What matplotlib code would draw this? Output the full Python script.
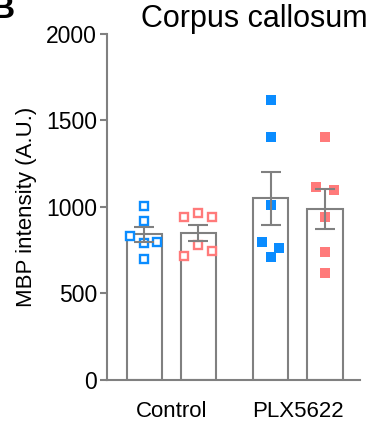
import matplotlib.pyplot as plt
import numpy as np

plt.rcParams["font.family"] = ["Liberation Sans", "DejaVu Sans"]

# values
groups = ["Control", "PLX5622"]
ctrl_blue = [1007, 919, 834, 790, 796, 698]
ctrl_red = [944, 963, 944, 780, 747, 719]
plx_blue = [1618, 1403, 1011, 799, 761, 713]
plx_red = [1403, 1114, 1098, 944, 742, 620]

# horizontal jitter of the dots within each bar
jit_ctrl_blue = [0, 0, -0.27, 0, 0.24, 0]
jit_ctrl_red = [-0.26, 0, 0.26, 0, 0.26, -0.26]
jit_plx_blue = [0, 0, 0, -0.16, 0.15, 0]
jit_plx_red = [0, -0.16, 0.16, 0, 0, 0]

blue = "#0a8cff"
red = "#ff7a7a"
gray = "#808080"

series = [
    (ctrl_blue, jit_ctrl_blue, blue, False),
    (ctrl_red, jit_ctrl_red, red, False),
    (plx_blue, jit_plx_blue, blue, True),
    (plx_red, jit_plx_red, red, True),
]
xpos = [0, 1, 2.34, 3.34]

fig = plt.figure(figsize=(3.74, 4.24), dpi=100)
ax = fig.add_axes([0.286, 0.104, 0.677, 0.816])

for x, (vals, jit, col, filled) in zip(xpos, series):
    vals = np.array(vals)
    mean = vals.mean()
    sem = vals.std(ddof=1) / np.sqrt(len(vals))
    ax.bar(x, mean, width=0.65, facecolor="white", edgecolor=gray,
           linewidth=1.5, zorder=1)
    ax.plot(x + np.array(jit), vals, "s", ms=7 if filled else 6.3,
            mfc=col if filled else "white", mec=col,
            mew=0 if filled else 1.7, zorder=2, linestyle="none")
    ax.errorbar(x, mean, yerr=sem, color=gray, capsize=7, capthick=1.5,
                elinewidth=1.5, zorder=3)

ax.set_xlim(-0.69, 3.99)
ax.set_ylim(0, 2000)
ax.set_yticks([0, 500, 1000, 1500, 2000])
ax.set_xticks([0.5, 2.84])
ax.set_xticklabels(groups)
ax.tick_params(axis="x", length=0, labelsize=16, pad=15)
ax.tick_params(axis="y", length=5, width=1.5, color=gray, labelsize=16.5, pad=2)
for s in ["top", "right"]:
    ax.spines[s].set_visible(False)
for s in ["left", "bottom"]:
    ax.spines[s].set_color(gray)
    ax.spines[s].set_linewidth(1.5)

ax.set_ylabel("MBP intensity (A.U.)", fontsize=16, labelpad=7)
ax.set_title("Corpus callosum", fontsize=22, x=0.58, pad=5)
fig.text(-0.025, 0.958, "B", fontsize=24, fontweight="bold", va="baseline")

fig.savefig("out.png", dpi=100)
